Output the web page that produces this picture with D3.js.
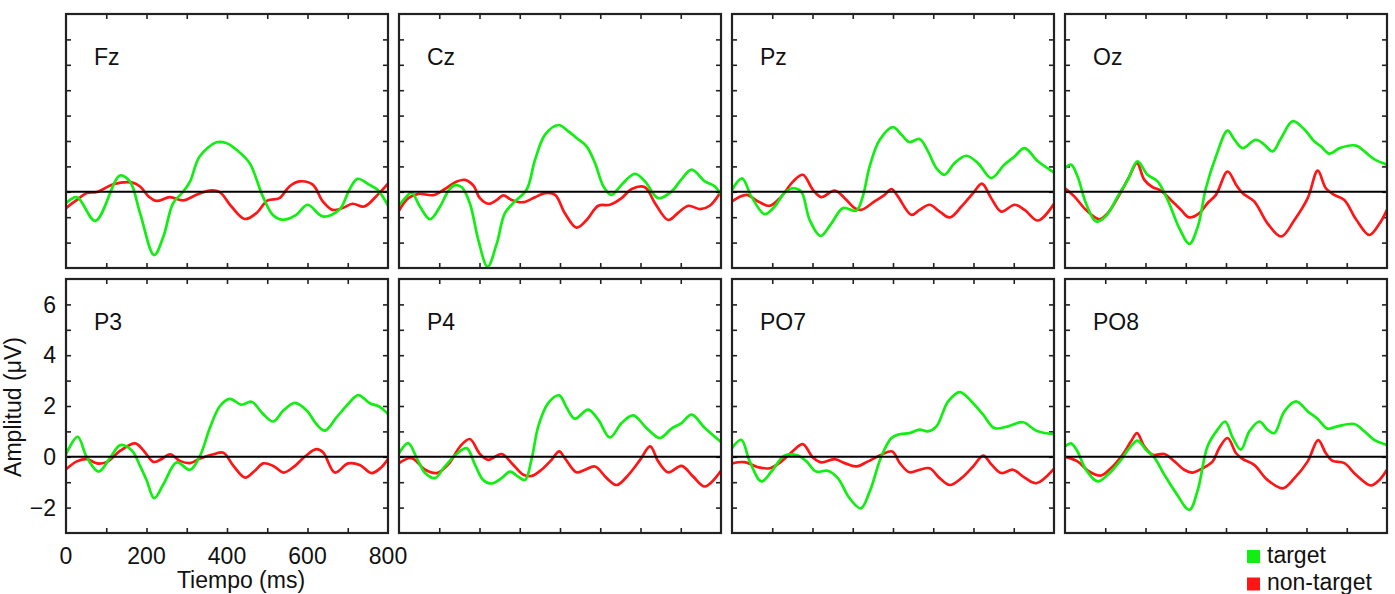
<!DOCTYPE html>
<html>
<head>
<meta charset="utf-8">
<script src="https://cdn.jsdelivr.net/npm/d3@7/dist/d3.min.js"></script>
<style>
  body { margin: 0; background: #fff; }
  text { font-family: "Liberation Sans", Arial, sans-serif; fill: #111; }
</style>
</head>
<body>
<script>
// canales, en el orden de la figura (fila de arriba, fila de abajo)
const channels = ["Fz", "Cz", "Pz", "Oz", "P3", "P4", "PO7", "PO8"];
const xTicks = [0, 200, 400, 600, 800];
const yTicks = [-2, 0, 2, 4, 6];
const legendLabels = ["target", "non-target"];

// [tiempo ms, amplitud µV]
const fzTarget = [[0,-0.45],[27,-0.21],[73,-1.14],[134,0.64],[159,0.4],[184,-0.84],[219,-2.49],[242,-1.76],[266,-0.45],[291,0],[308,0.4],[332,1.39],[374,1.95],[398,1.92],[423,1.66],[456,1.13],[489,-0.18],[514,-0.91],[539,-1.1],[572,-0.91],[600,-0.51],[638,-0.97],[679,-0.71],[704,0.08],[724,0.51],[753,0.28],[774,0.08],[800,-0.54]];
const fzNontarget = [[0,-0.64],[27,-0.32],[52,-0.05],[77,-0.01],[118,0.3],[163,0.37],[184,0.21],[205,-0.18],[225,-0.36],[258,-0.21],[291,-0.34],[324,-0.12],[357,0.05],[382,-0.01],[411,-0.58],[444,-1.07],[473,-0.84],[501,-0.34],[530,-0.25],[555,0.21],[580,0.41],[613,0.28],[638,-0.38],[662,-0.71],[687,-0.64],[712,-0.47],[741,-0.58],[774,-0.12],[800,0.32]];

const czTarget = [[0,-0.55],[15,-0.25],[31,-0.03],[52,-0.58],[77,-1.08],[102,-0.58],[123,0.05],[139,0.26],[156,0.18],[176,-0.45],[197,-1.89],[220,-2.95],[243,-2.03],[263,-0.84],[288,-0.38],[317,0.08],[338,1.26],[363,2.25],[396,2.63],[421,2.38],[441,2.12],[466,1.79],[487,1.13],[508,0.21],[528,-0.12],[553,0.28],[586,0.71],[611,0.41],[644,-0.25],[677,0.01],[702,0.5],[727,0.87],[760,0.41],[785,0.21],[800,-0.12]];
const czNontarget = [[0,-0.74],[23,-0.25],[48,-0.08],[85,-0.13],[114,0.11],[139,0.37],[164,0.47],[185,0.24],[201,-0.25],[222,-0.47],[243,-0.32],[259,-0.14],[280,-0.32],[309,-0.41],[338,-0.21],[363,-0.05],[388,-0.12],[412,-0.84],[441,-1.41],[466,-1.11],[495,-0.55],[524,-0.51],[553,-0.25],[578,0.11],[611,0.18],[636,-0.45],[669,-1.11],[694,-0.82],[719,-0.55],[748,-0.68],[772,-0.55],[800,0.01]];

const pzTarget = [[0,0.08],[25,0.53],[48,-0.18],[81,-0.88],[106,-0.58],[131,-0.03],[152,0.14],[172,0.01],[193,-1.11],[220,-1.74],[247,-1.24],[276,-0.64],[309,-0.74],[325,-0.18],[342,1.0],[367,2.05],[400,2.55],[421,2.25],[441,1.96],[466,2.08],[487,1.59],[508,0.93],[528,0.67],[553,1.13],[582,1.42],[611,1.13],[644,0.54],[677,1.07],[702,1.39],[727,1.72],[760,1.2],[800,0.76]];
const pzNontarget = [[0,-0.38],[36,-0.12],[65,-0.38],[94,-0.55],[123,-0.18],[152,0.41],[176,0.67],[201,0.08],[222,-0.21],[255,0.05],[280,-0.25],[305,-0.64],[321,-0.71],[354,-0.38],[379,-0.12],[396,0.11],[412,-0.18],[446,-0.91],[466,-0.71],[491,-0.51],[516,-0.78],[541,-1.01],[570,-0.58],[599,-0.05],[621,0.32],[644,-0.25],[669,-0.78],[702,-0.51],[727,-0.71],[760,-1.13],[800,-0.47]];

const ozTarget = [[0,0.93],[15,1.07],[31,0.61],[52,-0.45],[77,-1.17],[102,-0.95],[131,-0.18],[156,0.47],[180,1.2],[205,0.67],[230,0.41],[255,-0.32],[284,-1.43],[309,-2.05],[330,-1.37],[350,0.14],[375,1.39],[404,2.41],[421,2.05],[441,1.72],[474,2.05],[495,1.86],[516,1.59],[537,2.12],[566,2.78],[595,2.45],[619,1.99],[636,1.79],[657,1.5],[682,1.72],[723,1.82],[744,1.59],[768,1.29],[800,1.07]];
const ozNontarget = [[0,0.14],[23,-0.18],[52,-0.71],[85,-1.08],[106,-0.84],[135,-0.12],[160,0.61],[179,1.13],[197,0.47],[218,0.18],[238,0.05],[263,-0.32],[288,-0.71],[309,-1.01],[334,-0.84],[354,-0.45],[375,-0.12],[404,0.8],[425,0.28],[441,-0.05],[470,-0.38],[503,-1.24],[537,-1.76],[570,-1.11],[603,-0.25],[628,0.83],[648,0.14],[669,-0.12],[694,-0.32],[723,-1.08],[756,-1.7],[781,-1.26],[800,-0.71]];

const p3Target = [[0,0.1],[29,0.79],[52,-0.03],[81,-0.58],[110,-0.03],[135,0.46],[164,0.24],[184,-0.36],[201,-0.95],[219,-1.63],[242,-1.08],[275,-0.22],[308,-0.51],[333,0.04],[358,1.16],[383,2.01],[407,2.28],[436,2.05],[461,2.17],[490,1.68],[515,1.39],[540,1.82],[569,2.12],[598,1.82],[622,1.29],[643,1.03],[672,1.55],[701,2.08],[726,2.43],[755,2.11],[779,1.97],[800,1.68]];
const p3Nontarget = [[0,-0.49],[27,-0.18],[52,-0.09],[77,-0.26],[102,-0.2],[135,0.24],[172,0.53],[193,0.24],[217,-0.2],[234,-0.12],[259,0.1],[283,-0.16],[308,-0.25],[333,-0.07],[366,0.1],[391,0.16],[416,-0.36],[445,-0.82],[469,-0.55],[490,-0.26],[515,-0.36],[540,-0.62],[564,-0.42],[593,0],[622,0.3],[639,0.17],[668,-0.62],[701,-0.26],[730,-0.32],[759,-0.64],[783,-0.42],[800,-0.09]];

const p4Target = [[0,0.14],[23,0.54],[44,-0.05],[65,-0.64],[89,-0.84],[114,-0.38],[143,0.11],[168,0.34],[189,-0.32],[209,-0.91],[230,-1.05],[255,-0.84],[276,-0.58],[296,-0.78],[313,-0.91],[330,-0.05],[346,1.2],[371,2.12],[398,2.42],[417,1.92],[437,1.5],[470,1.86],[495,1.46],[524,0.76],[553,1.33],[582,1.63],[615,1.13],[648,0.74],[677,1.11],[702,1.33],[727,1.66],[760,1.13],[800,0.58]];
const p4Nontarget = [[0,-0.25],[31,-0.05],[65,-0.51],[94,-0.64],[123,-0.29],[152,0.41],[176,0.7],[201,0.11],[222,-0.12],[255,0.11],[280,-0.25],[309,-0.71],[330,-0.75],[354,-0.51],[379,-0.12],[398,0.21],[412,-0.05],[441,-0.61],[462,-0.51],[487,-0.38],[516,-0.84],[541,-1.11],[570,-0.71],[599,-0.12],[624,0.41],[644,-0.18],[669,-0.61],[702,-0.36],[731,-0.78],[760,-1.17],[800,-0.55]];

const po7Target = [[0,0.34],[23,0.67],[44,-0.18],[73,-0.97],[98,-0.58],[131,0.05],[164,0.05],[185,-0.18],[209,-0.58],[238,-0.55],[263,-0.84],[292,-1.63],[320,-2.03],[342,-1.37],[371,0.01],[396,0.74],[417,0.89],[441,0.93],[466,1.07],[487,1.0],[508,1.2],[537,2.18],[566,2.55],[595,2.18],[624,1.66],[652,1.13],[686,1.2],[723,1.36],[756,1.03],[800,0.89]];
const po7Nontarget = [[0,-0.26],[31,-0.21],[65,-0.41],[94,-0.45],[123,-0.18],[152,0.24],[176,0.5],[201,-0.03],[222,-0.22],[255,-0.09],[280,-0.25],[309,-0.38],[338,-0.18],[371,0.08],[398,0.21],[417,-0.25],[441,-0.61],[466,-0.51],[491,-0.45],[516,-0.84],[541,-1.11],[570,-0.84],[599,-0.38],[624,0.05],[644,-0.29],[669,-0.64],[698,-0.51],[727,-0.82],[756,-1.04],[800,-0.47]];

const po8Target = [[0,0.41],[15,0.53],[31,0.21],[52,-0.51],[81,-0.97],[106,-0.71],[139,-0.12],[160,0.34],[180,0.64],[201,0.28],[222,-0.03],[247,-0.71],[276,-1.43],[309,-2.09],[330,-1.3],[354,0.41],[379,1.07],[398,1.39],[417,0.74],[437,0.28],[458,1.0],[483,1.39],[503,1.07],[520,0.93],[545,1.79],[574,2.18],[603,1.79],[628,1.49],[652,1.11],[677,1.2],[719,1.29],[744,1.0],[768,0.67],[800,0.47]];
const po8Nontarget = [[0,0],[31,-0.18],[60,-0.58],[89,-0.74],[114,-0.45],[143,0.08],[164,0.61],[179,0.93],[197,0.41],[218,0.08],[247,0.11],[272,-0.18],[296,-0.51],[317,-0.62],[342,-0.45],[367,-0.18],[383,0.34],[404,0.74],[425,0.14],[441,-0.08],[470,-0.32],[503,-0.91],[541,-1.24],[570,-0.84],[603,-0.18],[629,0.66],[648,0.14],[665,-0.16],[694,-0.25],[723,-0.71],[760,-1.13],[781,-0.91],[800,-0.51]];

const targetSeries = [fzTarget, czTarget, pzTarget, ozTarget, p3Target, p4Target, po7Target, po8Target];
const nontargetSeries = [fzNontarget, czNontarget, pzNontarget, ozNontarget, p3Nontarget, p4Nontarget, po7Nontarget, po8Nontarget];

const colors = ["#11ee11", "#ff1515"];

const svg = d3.select("body").append("svg")
  .attr("width", 1395)
  .attr("height", 594);

// geometría de los paneles
const panelW = 322, panelH = 254;
const panelX = [66, 399, 732, 1065];
const panelY = [14, 279];

const x = d3.scaleLinear().domain([0, 800]).range([0, panelW]);
const y = d3.scaleLinear().domain([-3, 7]).range([panelH, 0]);

const line = d3.line()
  .x(function (d) { return x(d[0]); })
  .y(function (d) { return y(d[1]); })
  .curve(d3.curveCatmullRom.alpha(0.5));

channels.forEach(function (name, i) {
  const col = i % 4, row = Math.floor(i / 4);
  const g = svg.append("g")
    .attr("transform", "translate(" + panelX[col] + "," + panelY[row] + ")");

  g.append("clipPath").attr("id", "clip" + i)
    .append("rect").attr("width", panelW).attr("height", panelH);

  // ticks hacia dentro en los cuatro lados
  const xt = d3.range(100, 800, 100);
  const yt = d3.range(-2, 7, 1);
  g.append("g").attr("transform", "translate(0," + panelH + ")")
    .call(d3.axisBottom(x).tickValues(xt).tickSize(-5).tickFormat(""));
  g.append("g")
    .call(d3.axisTop(x).tickValues(xt).tickSize(-5).tickFormat(""));
  g.append("g")
    .call(d3.axisLeft(y).tickValues(yt).tickSize(-5).tickFormat(""));
  g.append("g").attr("transform", "translate(" + panelW + ",0)")
    .call(d3.axisRight(y).tickValues(yt).tickSize(-5).tickFormat(""));
  g.selectAll(".domain").remove();
  g.selectAll(".tick line").attr("stroke", "#222").attr("stroke-width", 1.6);

  const curves = g.append("g").attr("clip-path", "url(#clip" + i + ")");
  curves.append("path")
    .attr("d", line(nontargetSeries[i]))
    .attr("fill", "none").attr("stroke", colors[1]).attr("stroke-width", 2.7);
  curves.append("path")
    .attr("d", line(targetSeries[i]))
    .attr("fill", "none").attr("stroke", colors[0]).attr("stroke-width", 2.7);

  // línea de cero
  g.append("line")
    .attr("x1", 0).attr("x2", panelW)
    .attr("y1", y(0)).attr("y2", y(0))
    .attr("stroke", "#000").attr("stroke-width", 2);

  g.append("rect")
    .attr("width", panelW).attr("height", panelH)
    .attr("fill", "none").attr("stroke", "#222").attr("stroke-width", 2.2);

  g.append("text")
    .attr("x", 28).attr("y", 51)
    .style("font-size", "23px")
    .text(name);

  // etiquetas de ejes sólo en P3
  if (name === "P3") {
    g.selectAll(".ylab").data(yTicks).enter().append("text")
      .attr("x", -10).attr("y", function (d) { return y(d); })
      .attr("dy", "0.36em")
      .attr("text-anchor", "end")
      .style("font-size", "23px")
      .text(function (d) { return d < 0 ? "\u2212" + Math.abs(d) : d; });
    g.selectAll(".xlab").data(xTicks).enter().append("text")
      .attr("x", function (d) { return x(d); }).attr("y", panelH + 31)
      .attr("text-anchor", "middle")
      .style("font-size", "23px")
      .text(function (d) { return d; });
    g.append("text")
      .attr("x", 175).attr("y", panelH + 55)
      .attr("text-anchor", "middle")
      .style("font-size", "23px")
      .text("Tiempo (ms)");
    g.append("text")
      .attr("transform", "translate(-45," + (y(2) + 1) + ") rotate(-90)")
      .attr("text-anchor", "middle")
      .style("font-size", "23px")
      .text("Amplitud (\u03bcV)");
  }
});

// leyenda
const legend = svg.append("g").attr("transform", "translate(1247,550)");
legendLabels.forEach(function (lab, i) {
  legend.append("rect")
    .attr("x", 0).attr("y", i * 27.5)
    .attr("width", 13).attr("height", 13)
    .attr("fill", colors[i]);
  legend.append("text")
    .attr("x", 20).attr("y", i * 27.5 + 12.5)
    .style("font-size", "23px")
    .text(lab);
});
</script>
</body>
</html>
